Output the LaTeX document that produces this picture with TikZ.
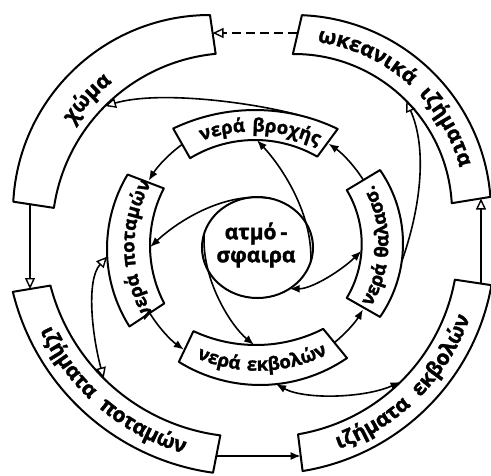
\documentclass[tikz,border=0pt]{standalone}
\usepackage{fontspec}
\setmainfont{Open Sans}
\newfontfamily\lblfam{Open Sans}[FakeBold=1.6]
\usetikzlibrary{arrows.meta,calc,decorations.text,shapes.geometric}

\newcommand{\outerfont}{\lblfam\bfseries\fontsize{21}{21}\selectfont\fontdimen2\font=12pt\relax}
\newcommand{\innerfont}{\lblfam\bfseries\fontsize{18.5}{18.5}\selectfont\fontdimen2\font=7pt\relax}
\newcommand{\atmfont}{\lblfam\bfseries\fontsize{21}{23}\selectfont}
% #1 outer centre, #2 R, #3 a1, #4 a2, #5 inner centre, #6 r, #7 b1, #8 b2
\newcommand{\sectorbox}[8]{%
  \draw[boxline] ($(#1)+(#3:#2)$) arc[start angle=#3,end angle=#4,radius=#2]
    -- ($(#5)+(#8:#6)$) arc[start angle=#8,end angle=#7,radius=#6] -- cycle;}
% #1 font, #2 centre, #3 radius, #4 start, #5 end, #6 text
\newcommand{\curvedtext}[6]{%
  \path[decorate,decoration={text along path,text align={center},text={|#1|#6}}]
    ($(#2)+(#4:#3)$) arc[start angle=#4,end angle=#5,radius=#3];}

\begin{document}
\begin{tikzpicture}[x=1pt,y=-1pt,
  boxline/.style={line width=2pt,line join=round},
  conn/.style={line width=1.6pt},
  opentip/.style={conn,-{Triangle[open,length=11pt,width=10pt,line width=1.4pt]}},
  opentwo/.style={conn,{Triangle[open,length=11pt,width=10pt,line width=1.4pt]}-{Triangle[open,length=11pt,width=10pt,line width=1.4pt]}},
  filltip/.style={conn,-{Latex[length=10pt,width=8pt]}},
  filltwo/.style={conn,{Latex[length=10pt,width=8pt]}-{Latex[length=10pt,width=8pt]}}]

\fill[white] (0,0) rectangle (491,475);
\useasboundingbox (0,0) rectangle (491,475);

% centres of the curved boxes
\coordinate (chO) at (210,212); \coordinate (chI) at (233,234); \coordinate (chT) at (224,226);
\coordinate (okC) at (294,212);
\coordinate (ipC) at (246,235);
\coordinate (ieC) at (266,245);
\coordinate (brO) at (255,300); \coordinate (brI) at (255,265); \coordinate (brT) at (254,285.5);
\coordinate (thO) at (274,243.5); \coordinate (thI) at (257,244); \coordinate (thT) at (266,243.75);
\coordinate (ebO) at (260,231); \coordinate (ebI) at (256,197); \coordinate (ebT) at (258,216);
\coordinate (poO) at (252,249); \coordinate (poI) at (275,245.5); \coordinate (poT) at (263,247);
\coordinate (O) at (257,247);

% outer boxes
\sectorbox{chO}{197}{183}{270}{chI}{181}{188.3}{264.5}
\sectorbox{okC}{197}{272.3}{355.6}{okC}{158}{269.6}{356.8}
\sectorbox{ipC}{240}{97.9}{166.3}{ipC}{202}{97.3}{165.5}
\sectorbox{ieC}{229}{10.1}{80.8}{ieC}{192}{10.4}{80.4}
% inner boxes
\sectorbox{brO}{190}{244.5}{295.8}{brI}{125}{238.7}{299.9}
\sectorbox{thO}{129}{-34.7}{34.7}{thI}{104.7}{-31}{31}
\sectorbox{ebO}{154}{55.6}{121.8}{ebI}{148}{63}{115}
\sectorbox{poO}{145}{147.7}{210.9}{poI}{125}{152.4}{207.2}

% labels
\curvedtext{\outerfont}{chT}{182}{173}{273}{χώμα}
\curvedtext{\outerfont}{okC}{171.5}{256.4}{366.4}{ωκεανικά ιζήματα}
\curvedtext{\outerfont}{ipC}{227}{185.5}{75.5}{ιζήματα ποταμών}
\curvedtext{\outerfont}{ieC}{216.5}{100}{-10}{ιζήματα εκβολών}
\curvedtext{\innerfont}{brT}{154}{222.3}{322.3}{νερά βροχής}
\curvedtext{\innerfont}{thT}{122.4}{51}{-49}{νερά θαλασσ.}
\curvedtext{\innerfont}{ebT}{154.75}{138.3}{38.3}{νερά εκβολών}
\curvedtext{\innerfont}{poT}{128.6}{129}{229}{νερά ποταμών}

% atmosphere
\node[draw,ellipse,line width=2pt,minimum width=111pt,minimum height=101pt,inner sep=0pt,outer sep=0pt] (atm) at (257.5,247.5) {};
\node[align=center,font=\atmfont,inner sep=0pt] (atmlabel) at (256,245) {ατμό\kern4pt-\\σφαιρα};

% outer ring connectors
\coordinate (okL) at (296.5,33);  \coordinate (chR) at (212.6,33);
\coordinate (chB) at (30,204);    \coordinate (ipT) at (30,289);
\coordinate (ipB) at (216.3,456); \coordinate (ieL) at (300.7,456);
\coordinate (ieT) at (481,283.5); \coordinate (okB) at (481,198.5);
\draw[opentip,dash pattern=on 9pt off 5pt] (okL) -- (chR);
\draw[opentip] (chB) -- (ipT);
\draw[filltip] (ipB) -- (ieL);
\draw[opentip] (ieT) -- (okB);

% inner ring connectors
\coordinate (ra) at ($(O)+(233.7:127)$);
\coordinate (rb) at ($(O)+(148:126)$);
\coordinate (rc) at ($(O)+(51:123)$);
\coordinate (rd) at ($(O)+(-32.2:125.7)$);
\draw[filltip] (ra) arc[start angle=233.7,end angle=211.5,radius=127];
\draw[filltip] (rb) arc[start angle=148,end angle=125.5,radius=126];
\draw[filltip] (rc) arc[start angle=51,end angle=30.5,radius=123];
\draw[filltip] (rd) arc[start angle=-32.2,end angle=-55.3,radius=125.7];

% atmosphere arms
\coordinate (brIn) at (257,140.2);
\coordinate (poIn) at (150.2,247);
\coordinate (ebIn) at (254,344.8);
\coordinate (thIn) at (361.3,251);
\draw[filltip] (atm.-15) .. controls (313,215) and (283,168) .. (brIn);
\draw[filltip] (atm.75) .. controls (225,191) and (178,221) .. (poIn);
\draw[filltip] (atm.165) .. controls (201,279) and (231,326) .. (ebIn);
\draw[filltwo] (atm.-52) .. controls (312,289) and (342,270) .. (thIn);

% spokes from inner to outer boxes
\coordinate (brTop) at ($(brO)+(283:190)$);
\coordinate (chIn) at ($(chI)+(225:181)$);
\coordinate (thOut) at ($(thO)+(8:129)$);
\coordinate (okIn) at ($(okC)+(-44.7:158)$);
\coordinate (poOut) at ($(poO)+(177:145)$);
\coordinate (ipIn) at ($(ipC)+(134.8:202)$);
\coordinate (ebOut) at ($(ebO)+(84:154)$);
\coordinate (ieIn) at ($(ieC)+(45.5:192)$);
\draw[opentip] (brTop) .. controls (255,103) and (160,90) .. (chIn);
\draw[opentip] (thOut) .. controls (420,210) and (428,150) .. (okIn);
\draw[opentwo] (poOut) .. controls (86,280) and (92,335) .. (ipIn);
\draw[filltwo] (ebOut) .. controls (305,400) and (365,398) .. (ieIn);
\end{tikzpicture}
\end{document}
